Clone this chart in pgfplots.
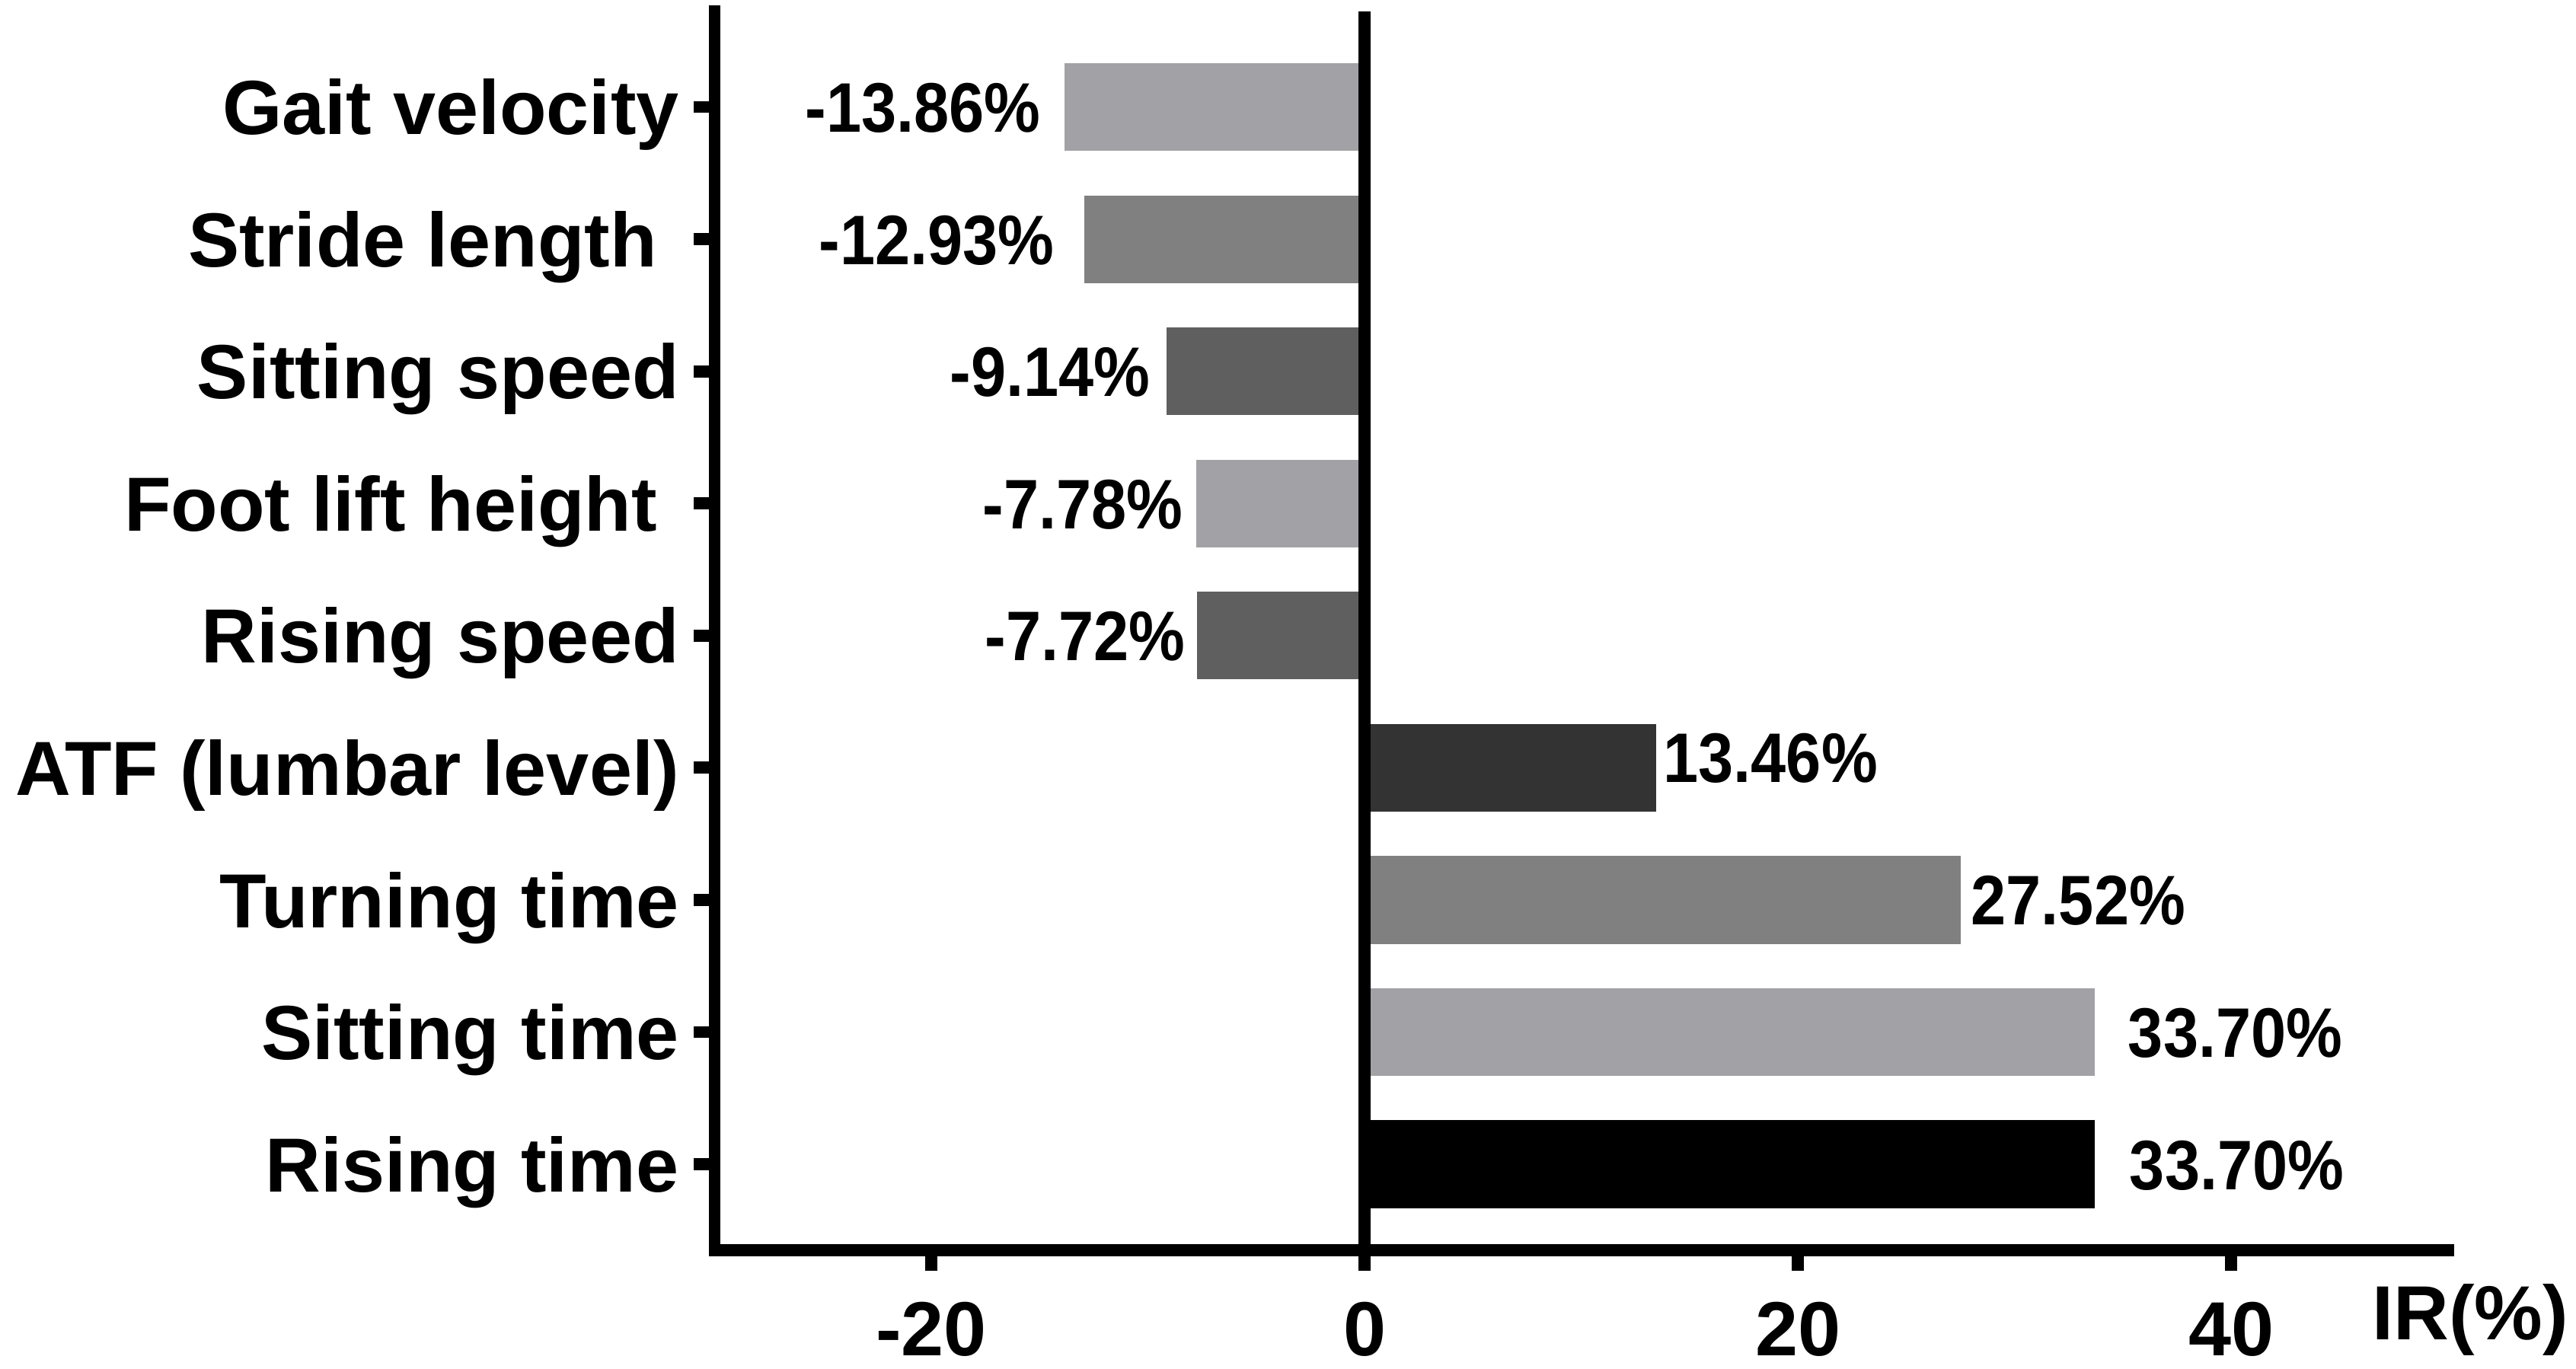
\documentclass[border=0pt]{standalone}
\usepackage{pgfplots}
\pgfplotsset{compat=1.18}
\usepackage{fontspec}
\setmainfont{Liberation Sans}
\usepackage{graphicx}
\definecolor{cLight}{HTML}{A2A1A6}
\definecolor{cMed}{HTML}{808080}
\definecolor{cDark}{HTML}{5F5F5F}
\definecolor{cAtf}{HTML}{333333}
\newcommand{\vl}[1]{\scalebox{0.9}[1]{\fontsize{12.8}{14}\selectfont\bfseries #1}}
\tikzset{vlab/.style={inner sep=0pt, text height=9.16pt, text depth=0pt}}
\begin{document}
\begin{tikzpicture}
\begin{axis}[
  scale only axis, width=316.27pt, height=226.03pt,
  xmin=-30, xmax=50, ymin=0.349, ymax=9.723,
  axis x line=bottom, axis y line=left,
  axis line style={line width=2.2pt, -, line cap=rect},
  tick align=outside, major tick length=3.8pt,
  tick style={line width=2.2pt, black, line cap=butt},
  xtick={-20,0,20,40}, xticklabels={-20,0,20,40},
  ytick={1,2,3,4,5,6,7,8,9},
  yticklabels={Rising time, Sitting time, Turning time, ATF (lumbar level), Rising speed, Foot lift height\rule{4pt}{0pt}, Sitting speed, Stride length\rule{4pt}{0pt}, Gait velocity},
  tick label style={font=\fontsize{14}{16}\selectfont\bfseries, inner sep=0pt, text depth=0pt, text height=10.02pt},
  xticklabel shift=5.2pt, yticklabel shift=2.5pt,
  clip=false,
]
\addplot[xbar, bar shift=0pt, bar width=16pt, fill=cLight, draw=none] coordinates {(-13.86,9)};
\addplot[xbar, bar shift=0pt, bar width=16pt, fill=cMed, draw=none] coordinates {(-12.93,8)};
\addplot[xbar, bar shift=0pt, bar width=16pt, fill=cDark, draw=none] coordinates {(-9.14,7)};
\addplot[xbar, bar shift=0pt, bar width=16pt, fill=cLight, draw=none] coordinates {(-7.78,6)};
\addplot[xbar, bar shift=0pt, bar width=16pt, fill=cDark, draw=none] coordinates {(-7.72,5)};
\addplot[xbar, bar shift=0pt, bar width=16pt, fill=cAtf, draw=none] coordinates {(13.46,4)};
\addplot[xbar, bar shift=0pt, bar width=16pt, fill=cMed, draw=none] coordinates {(27.52,3)};
\addplot[xbar, bar shift=0pt, bar width=16pt, fill=cLight, draw=none] coordinates {(33.70,2)};
\addplot[xbar, bar shift=0pt, bar width=16pt, fill=black, draw=none] coordinates {(33.70,1)};
\addplot[black, line width=2.2pt, line cap=butt, mark=none] coordinates {(0,0.349) (0,9.723)};
\node[vlab, anchor=east] at (axis cs:-14.9,9) {\vl{-13.86\%}};
\node[vlab, anchor=east] at (axis cs:-14.28,8) {\vl{-12.93\%}};
\node[vlab, anchor=east] at (axis cs:-9.85,7) {\vl{-9.14\%}};
\node[vlab, anchor=east] at (axis cs:-8.33,6) {\vl{-7.78\%}};
\node[vlab, anchor=east] at (axis cs:-8.23,5) {\vl{-7.72\%}};
\node[vlab, anchor=west, yshift=1.9pt] at (axis cs:13.74,4) {\vl{13.46\%}};
\node[vlab, anchor=west] at (axis cs:27.94,3) {\vl{27.52\%}};
\node[vlab, anchor=west] at (axis cs:35.19,2) {\vl{33.70\%}};
\node[vlab, anchor=west] at (axis cs:35.26,1) {\vl{33.70\%}};
\node[anchor=base west, inner sep=0pt, font=\fontsize{14}{16}\selectfont\bfseries] at (axis cs:46.45,-0.33) {IR(\%)};
\end{axis}
\pgfresetboundingbox
\path[use as bounding box] (-130.38pt,-21.53pt) rectangle (339.61pt,228.12pt);
\end{tikzpicture}
\end{document}
